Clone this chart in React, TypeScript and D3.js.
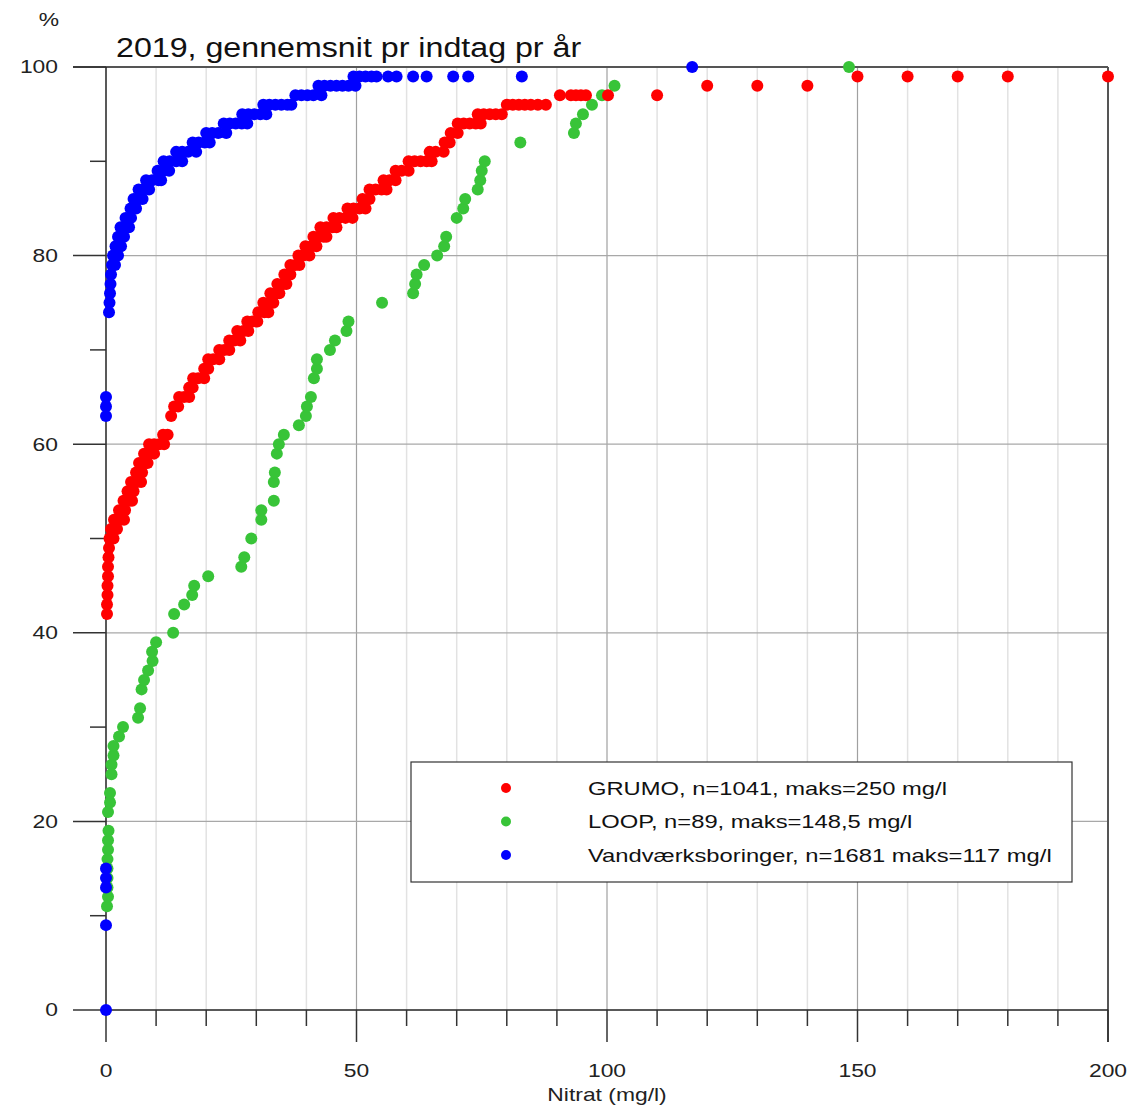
import React from "react";
import * as d3 from "d3";

// nitrat (mg/l) vs. kumuleret procent
const title = "2019, gennemsnit pr indtag pr år";
const xLabel = "Nitrat (mg/l)";
const yLabel = "%";
const xMajorTicks = [0, 50, 100, 150, 200];
const yMajorTicks = [0, 20, 40, 60, 80, 100];
const seriesNames = [
    "GRUMO, n=1041, maks=250 mg/l",
    "LOOP, n=89, maks=148,5 mg/l",
    "Vandværksboringer, n=1681 maks=117 mg/l",
];

// [nitrat, procent]
const loop: [number, number][] = [
    [0.2, 11], [0.4, 12], [0.3, 13], [0.3, 14], [0.3, 15], [0.3, 16], [0.4, 17], [0.4, 18], [0.5, 19],
    [0.4, 21], [0.8, 22], [0.8, 23], [1.1, 25], [1.1, 26], [1.5, 27], [1.5, 28], [2.6, 29], [3.4, 30],
    [6.4, 31], [6.8, 32], [7.1, 34], [7.6, 35], [8.4, 36], [9.3, 37], [9.2, 38], [10, 39], [13.4, 40],
    [13.6, 42], [15.6, 43], [17.2, 44], [17.6, 45], [20.4, 46], [27, 47], [27.6, 48], [29, 50], [31, 52],
    [31, 53], [33.5, 54], [33.5, 56], [33.7, 57], [34.1, 59], [34.5, 60], [35.5, 61], [38.5, 62],
    [39.9, 63], [40.1, 64], [40.9, 65], [41.5, 67], [42.1, 68], [42.1, 69], [44.7, 70], [45.7, 71],
    [48, 72], [48.4, 73], [55.1, 75], [61.3, 76], [61.7, 77], [62, 78], [63.5, 79], [66.1, 80],
    [67.5, 81], [67.9, 82], [70, 84], [71.3, 85], [71.7, 86], [74.2, 87], [74.7, 88], [75, 89],
    [75.6, 90], [82.7, 92], [93.4, 93], [93.8, 94], [95.2, 95], [97, 96], [99, 97], [101.5, 98],
    [148.3, 100],
];

const grumo: [number, number][] = [
    [0.2, 42], [0.2, 43], [0.3, 44], [0.3, 45], [0.4, 46], [0.4, 47], [0.5, 48], [0.6, 49],
    [0.7, 50], [1.5, 50], [1.0, 51], [2.2, 51], [1.6, 52], [2.8, 52], [3.6, 52], [2.6, 53], [3.8, 53],
    [3.5, 54], [4.6, 54], [5.2, 54], [4.3, 55], [5.5, 55], [5.0, 56], [6.2, 56], [7.0, 56],
    [6.0, 57], [7.2, 57], [6.6, 58], [7.8, 58], [8.3, 58], [7.6, 59], [8.8, 59], [9.6, 59],
    [8.6, 60], [9.6, 60], [10.6, 60], [11.6, 60], [11.4, 61], [12.3, 61], [13.0, 63],
    [13.6, 64], [14.4, 64], [14.6, 65], [15.6, 65], [16.6, 65], [16.6, 66], [17.3, 66],
    [17.4, 67], [18.4, 67], [19.6, 67], [19.6, 68], [20.4, 68], [20.4, 69], [21.4, 69], [22.6, 69],
    [22.6, 70], [23.6, 70], [24.6, 70], [24.6, 71], [25.6, 71], [26.8, 71], [26.2, 72], [27.4, 72],
    [28.4, 72], [28.2, 73], [29.2, 73], [30.2, 73], [30.4, 74], [31.6, 74], [32.4, 74],
    [31.4, 75], [32.6, 75], [33.4, 75], [32.8, 76], [34.0, 76], [34.6, 76], [34.2, 77], [35.4, 77],
    [36.0, 77], [35.6, 78], [36.8, 78], [36.8, 79], [37.8, 79], [38.6, 79], [38.4, 80], [39.4, 80],
    [40.6, 80], [39.8, 81], [41.0, 81], [42.0, 81], [41.4, 82], [42.4, 82], [43.4, 82], [44.0, 82],
    [42.8, 83], [44.0, 83], [45.2, 83], [46.0, 83], [45.4, 84], [46.6, 84], [47.8, 84], [49.2, 84],
    [48.2, 85], [49.4, 85], [50.6, 85], [51.8, 85], [51.2, 86], [52.6, 86], [52.6, 87], [53.8, 87],
    [55.0, 87], [56.0, 87], [55.4, 88], [56.6, 88], [57.8, 88], [57.8, 89], [59.0, 89], [60.4, 89],
    [60.4, 90], [61.6, 90], [62.8, 90], [64.0, 90], [65.0, 90], [64.6, 91], [65.8, 91], [67.4, 91],
    [67.6, 92], [68.6, 92], [68.8, 93], [70.2, 93], [70.2, 94], [71.4, 94], [72.6, 94], [73.8, 94],
    [74.8, 94], [74.2, 95], [75.4, 95], [76.6, 95], [77.8, 95], [79.0, 95], [80.0, 96], [81.2, 96],
    [82.4, 96], [83.6, 96], [84.8, 96], [86.2, 96], [87.8, 96], [90.6, 97], [92.8, 97], [93.8, 97],
    [94.8, 97], [95.8, 97], [100.2, 97], [110, 97], [120, 98], [130, 98], [140, 98],
    [150, 99], [160, 99], [170, 99], [180, 99], [200, 99],
];

const vandvaerk: [number, number][] = [
    [0, 0], [0, 9], [0, 13], [0, 14], [0, 15], [0, 63], [0, 64], [0, 65],
    [0.6, 74], [0.7, 75], [0.8, 76], [0.9, 77], [1.0, 78], [1.2, 79], [1.8, 79], [1.4, 80], [2.4, 80],
    [1.9, 81], [3.0, 81], [2.4, 82], [3.6, 82], [2.9, 83], [3.9, 83], [4.6, 83], [3.9, 84], [5.0, 84],
    [4.9, 85], [6.0, 85], [5.5, 86], [6.6, 86], [7.3, 86], [6.5, 87], [7.5, 87], [8.6, 87],
    [8.0, 88], [9.2, 88], [10.5, 88], [11, 88], [10.3, 89], [11.5, 89], [12.6, 89],
    [11.5, 90], [12.7, 90], [14, 90], [15.2, 90], [14, 91], [15.2, 91], [16.4, 91], [18, 91],
    [17.3, 92], [18.5, 92], [19.7, 92], [20.7, 92], [20, 93], [21.2, 93], [22.4, 93], [24, 93],
    [23.5, 94], [24.7, 94], [25.9, 94], [27.1, 94], [28.2, 94], [27.2, 95], [28.4, 95], [29.6, 95],
    [30.8, 95], [32, 95], [31.4, 96], [32.6, 96], [33.8, 96], [35, 96], [36.2, 96], [37, 96],
    [37.8, 97], [39, 97], [40.2, 97], [41.4, 97], [43, 97], [42.4, 98], [43.6, 98], [44.8, 98],
    [46, 98], [47.2, 98], [48.4, 98], [49.8, 98], [49.4, 99], [50.6, 99], [51.8, 99], [53, 99],
    [54, 99], [56.3, 99], [58, 99], [61.3, 99], [64, 99], [69.3, 99], [72.3, 99], [83, 99],
    [117, 100],
];

const colors = ["#ff0000", "#38c438", "#0000ff"];
const font = "'Liberation Sans', Arial, sans-serif";

// the original picture is stretched sideways, so text gets a horizontal scale
const StretchText = (props: {
    x: number, y: number, sx: number, size: number,
    anchor?: "start" | "middle" | "end", dy?: string, fill?: string, children: React.ReactNode
}) => (
    <text
        transform={`translate(${props.x},${props.y}) scale(${props.sx},1)`}
        textAnchor={props.anchor ?? "start"}
        dy={props.dy}
        fontSize={props.size}
        fill={props.fill ?? "#222"}>
        {props.children}
    </text>
);

const App = () => {
    const width = 1128;
    const height = 1107;
    const left = 106, right = 1108, top = 67, bottom = 1010;

    const x = d3.scaleLinear().domain([0, 200]).range([left, right]);
    const y = d3.scaleLinear().domain([0, 100]).range([bottom, top]);

    const xMinor = d3.range(0, 201, 10).filter(d => !xMajorTicks.includes(d));
    const yMinor = d3.range(10, 100, 20);

    const r = 6;
    const dots = (data: [number, number][], color: string, key: string) =>
        data.map((d, i) => (
            <circle key={key + i} cx={x(d[0])} cy={y(d[1])} r={r} fill={color} />
        ));

    const legendX = 411, legendY = 762;
    const sx = 1.27;

    return (
        <div style={{position: "absolute", left: 0, top: 0}}>
            <svg width={width} height={height} style={{display: "block", background: "white"}} fontFamily={font}>
                {/* vertical grid */}
                {xMinor.map(d => (
                    <line key={"gx" + d} x1={x(d)} x2={x(d)} y1={top} y2={bottom}
                          stroke="#e2e2e2" strokeWidth={1.5} />
                ))}
                {xMajorTicks.filter(d => d > 0 && d < 200).map(d => (
                    <line key={"gX" + d} x1={x(d)} x2={x(d)} y1={top} y2={bottom}
                          stroke="#a0a0a0" strokeWidth={1.2} />
                ))}
                {/* horizontal grid */}
                {yMajorTicks.filter(d => d > 0 && d < 100).map(d => (
                    <line key={"gy" + d} x1={left} x2={right} y1={y(d)} y2={y(d)}
                          stroke="#a8a8a8" strokeWidth={1.2} />
                ))}
                {/* frame top and right */}
                <line x1={73} x2={right} y1={y(100)} y2={y(100)} stroke="#555" strokeWidth={2} />
                <line x1={x(200)} x2={x(200)} y1={top} y2={bottom + 32} stroke="#555" strokeWidth={2} />

                {/* y axis */}
                <line x1={left} x2={left} y1={top} y2={bottom} stroke="#222" strokeWidth={1.5} />
                {yMajorTicks.map(d => (
                    <g key={"yt" + d}>
                        <line x1={73} x2={left} y1={y(d)} y2={y(d)} stroke="#333" strokeWidth={1.5} />
                        <StretchText x={58} y={y(d)} dy="0.35em" anchor="end" size={18} sx={sx}>{d}</StretchText>
                    </g>
                ))}
                {yMinor.map(d => (
                    <line key={"ym" + d} x1={90} x2={left} y1={y(d)} y2={y(d)} stroke="#333" strokeWidth={1.5} />
                ))}
                <StretchText x={49} y={26} anchor="middle" size={18} sx={sx}>{yLabel}</StretchText>

                {/* x axis */}
                <line x1={left} x2={right} y1={bottom} y2={bottom} stroke="#222" strokeWidth={1.5} />
                {xMajorTicks.map(d => (
                    <g key={"xt" + d}>
                        <line x1={x(d)} x2={x(d)} y1={bottom} y2={bottom + 32} stroke="#333" strokeWidth={1.5} />
                        <StretchText x={x(d)} y={1077} anchor="middle" size={18} sx={sx}>{d}</StretchText>
                    </g>
                ))}
                {xMinor.map(d => (
                    <line key={"xm" + d} x1={x(d)} x2={x(d)} y1={bottom} y2={bottom + 16} stroke="#333" strokeWidth={1.5} />
                ))}
                <StretchText x={607} y={1101} anchor="middle" size={18} sx={sx}>{xLabel}</StretchText>

                {/* title */}
                <StretchText x={116} y={57} size={28} sx={1.15} fill="#111">{title}</StretchText>

                {/* series */}
                <g>{dots(loop, colors[1], "l")}</g>
                <g>{dots(grumo, colors[0], "g")}</g>
                <g>{dots(vandvaerk, colors[2], "v")}</g>

                {/* legend */}
                <rect x={legendX} y={legendY} width={661} height={120} fill="white" stroke="#333" strokeWidth={1.2} />
                {seriesNames.map((name, i) => (
                    <g key={"lg" + i}>
                        <circle cx={506} cy={788 + i * 33.5} r={5} fill={colors[i]} />
                        <StretchText x={588} y={788 + i * 33.5} dy="0.35em" size={19} sx={1.25} fill="#111">{name}</StretchText>
                    </g>
                ))}
            </svg>
        </div>
    );
};

export default App;
